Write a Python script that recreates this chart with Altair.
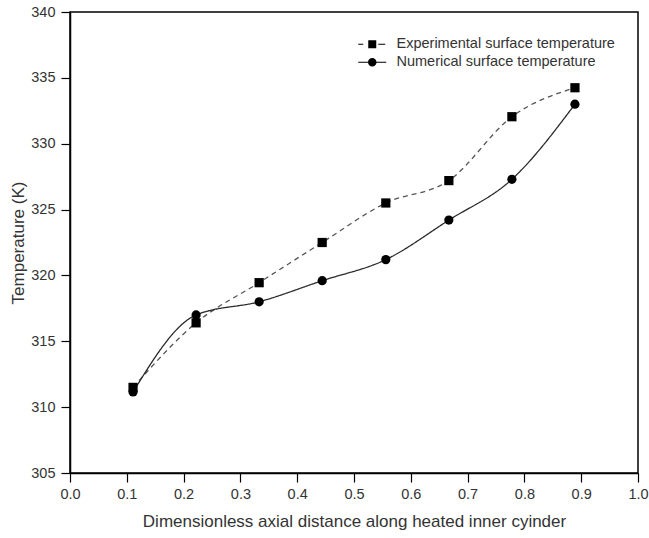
import altair as alt
import pandas as pd

# ---- data ----
x_vals = [0.111, 0.222, 0.333, 0.444, 0.556, 0.667, 0.778, 0.889]
exp_temp = [311.5, 316.4, 319.45, 322.5, 325.5, 327.2, 332.05, 334.25]
num_temp = [311.15, 317.0, 318.0, 319.6, 321.2, 324.2, 327.3, 333.0]

series_names = ["Experimental surface temperature", "Numerical surface temperature"]

x_ticks = [round(i * 0.05, 2) for i in range(21)]
y_ticks = [305 + i * 2.5 for i in range(15)]

FONT = "Liberation Sans"
TXT = "#333333"

rows = []
for xv, t in zip(x_vals, exp_temp):
    rows.append({"x": xv, "T": t, "series": series_names[0]})
for xv, t in zip(x_vals, num_temp):
    rows.append({"x": xv, "T": t, "series": series_names[1]})
df = pd.DataFrame(rows)

legend_df = pd.DataFrame({"label": series_names})

# legend symbols: line + marker combined (custom paths, unit = 5 px)
PATH_EXP = ("M-2.8,-0.12H-1.8V0.12H-2.8Z "
            "M-0.8,-0.8H0.8V0.8H-0.8Z "
            "M1.2,-0.12H2.6V0.12H1.2Z")
PATH_NUM = ("M-2.8,-0.12H-0.8V0.12H-2.8Z "
            "M0.8,-0.12H2.8V0.12H0.8Z "
            "M-0.85,0A0.85,0.85,0,1,1,0.85,0A0.85,0.85,0,1,1,-0.85,0Z")

x_enc = alt.X(
    "x:Q",
    scale=alt.Scale(domain=[0, 1], nice=False, zero=False),
    axis=alt.Axis(
        title="Dimensionless axial distance along heated inner cyinder",
        values=x_ticks,
        labelExpr="round(datum.value*100) % 10 == 0 ? format(datum.value, '.1f') : ''",
        tickSize={"condition": {"test": "round(datum.value*100) % 10 != 0", "value": 5}, "value": 9},
        labelPadding=5,
        titlePadding=13,
        labelFlush=False,
        labelOverlap=False,
        grid=False,
    ),
)
y_enc = alt.Y(
    "T:Q",
    scale=alt.Scale(domain=[305, 340], nice=False, zero=False),
    axis=alt.Axis(
        title="Temperature (K)",
        values=y_ticks,
        labelExpr="datum.value % 5 == 0 ? format(datum.value, 'd') : ''",
        tickSize={"condition": {"test": "datum.value % 5 != 0", "value": 5}, "value": 9},
        labelPadding=6,
        titlePadding=3,
        labelOverlap=False,
        grid=False,
    ),
)

lines = alt.Chart(df).mark_line(interpolate="monotone", strokeWidth=1.3).encode(
    x=x_enc,
    y=y_enc,
    strokeDash=alt.StrokeDash(
        "series:N",
        scale=alt.Scale(domain=series_names, range=[[5, 4], [1, 0]]),
        legend=None,
    ),
    color=alt.Color(
        "series:N",
        scale=alt.Scale(domain=series_names, range=["#555555", "#2a2a2a"]),
        legend=None,
    ),
)

points = alt.Chart(df).mark_point(filled=True, size=85, opacity=1, color="black").encode(
    x="x:Q",
    y="T:Q",
    shape=alt.Shape(
        "series:N",
        scale=alt.Scale(domain=series_names, range=["square", "circle"]),
        legend=None,
    ),
)

legend_layer = alt.Chart(legend_df).mark_point(filled=True, size=0, opacity=1, color="black").encode(
    shape=alt.Shape(
        "label:N",
        scale=alt.Scale(domain=series_names, range=[PATH_EXP, PATH_NUM]),
        legend=alt.Legend(
            title=None,
            orient="none",
            legendX=295,
            legendY=25,
            symbolSize=100,
            symbolOffset=0,
            symbolStrokeWidth=0,
            symbolFillColor="black",
            symbolOpacity=1,
            labelOffset=17,
            labelLimit=400,
            labelFont=FONT,
            labelFontSize=14.5,
            labelColor=TXT,
            rowPadding=3,
            padding=0,
        ),
    ),
)

chart = (
    alt.layer(lines, points, legend_layer)
    .resolve_scale(shape="independent")
    .properties(
        width=568,
        height=461,
        autosize=alt.AutoSizeParams(type="none"),
        padding={"left": 70, "top": 12, "right": 11, "bottom": 65},
    )
    .configure_view(stroke="black", strokeWidth=1.5)
    .configure_axis(
        domainColor="black",
        domainWidth=1.5,
        tickColor="black",
        tickWidth=1.2,
        labelFont=FONT,
        labelFontSize=14.5,
        labelColor=TXT,
        titleFont=FONT,
        titleFontSize=17,
        titleFontWeight="normal",
        titleColor=TXT,
    )
)

chart.save("out.html", embed_options={"renderer": "svg", "actions": False})
